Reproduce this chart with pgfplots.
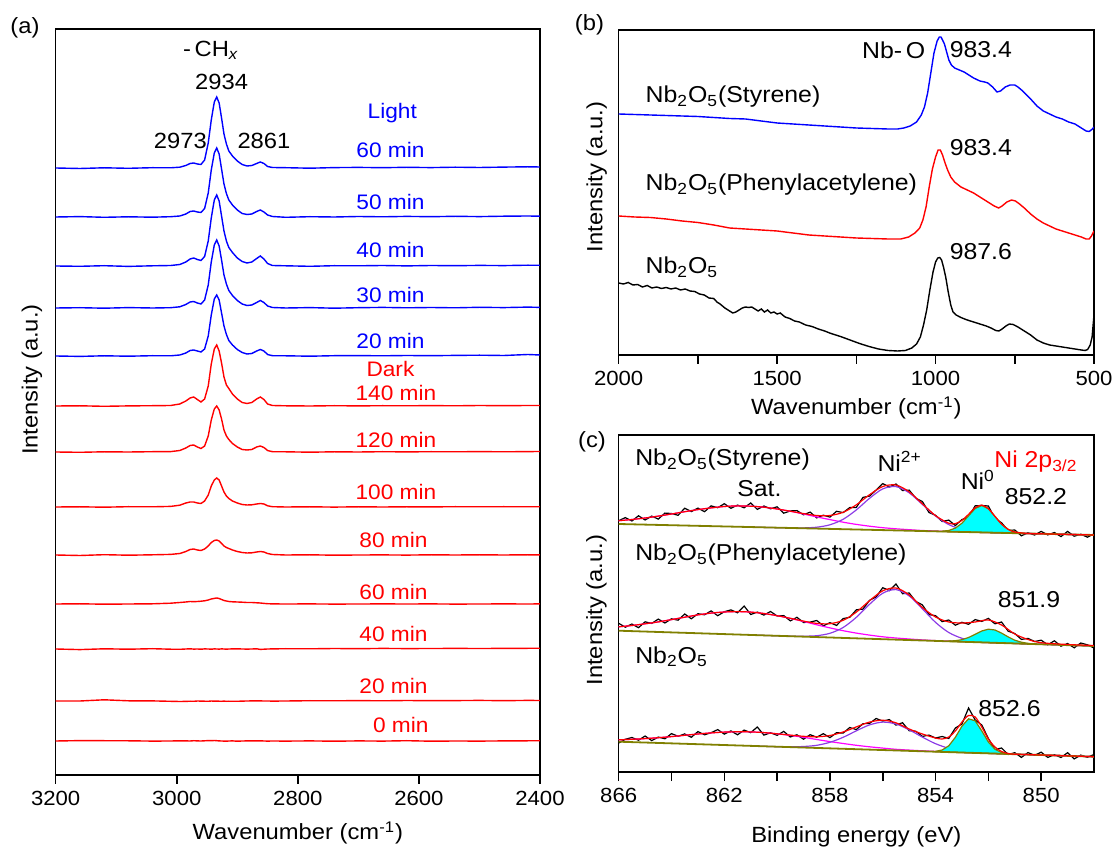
\documentclass[border=0pt]{standalone}
\usepackage{pgfplots}
\usepackage{pgfplotstable}
\usepackage{fontspec}
\setmainfont{Liberation Sans}[FakeStretch=1.08]
\pgfplotsset{compat=1.18}
\definecolor{sblue}{RGB}{0,0,255}
\definecolor{sred}{RGB}{255,0,0}
\definecolor{ni2c}{RGB}{140,60,230}
\definecolor{satc}{RGB}{255,0,255}
\definecolor{bgc}{RGB}{128,128,0}
\definecolor{ni0c}{RGB}{0,255,255}
\newcommand\fA{\fontsize{10.5}{12}\selectfont}
\newcommand\fP{\fontsize{11}{13}\selectfont}
\newcommand\fB{\fontsize{11.5}{13}\selectfont}
\pgfplotsset{
  panel/.style={
    scale only axis, anchor=south west, x dir=reverse,
    axis line style={line width=0.8pt},
    every tick/.style={line width=0.8pt, black},
    tick align=outside, xtick pos=bottom, ytick=\empty,
    major tick length=4.5pt, minor tick length=4.5pt,
    scaled x ticks=false,
    ticklabel style={font=\fontsize{10.25}{12}\selectfont},
    xlabel style={font=\fontsize{11}{13}\selectfont, anchor=center},
    ylabel style={font=\fontsize{11}{13}\selectfont, anchor=center},
    /pgf/number format/assume math mode=true,
    /pgf/number format/set thousands separator={},
    clip=true,
  }
}
% panel (a): heights above each trace's baseline (px units)
\pgfplotstableread{
x L60 L50 L40 L30 L20 D140 D120 D100 D80 D60 D40 D20 D0
3200 0 0 0 0 0 0 0 0 0 0 0 0 0
3160 -0.5 0.4 -0.3 0.3 -0.4 0.2 -0.3 0.2 -0.5 0.2 -0.6 0 0.4
3120 0.2 -0.3 0.3 -0.2 0.2 -0.3 0.2 -0.2 0.3 -0.2 0.2 1.2 0.3
3080 -0.3 0.2 -0.4 0.4 -0.2 0.1 0 0.3 -0.2 0 -0.2 0.2 0.2
3040 0.3 -0.2 0.2 0 0.3 0.3 0.3 0.2 0.2 0.2 0.3 0.1 -0.1
3010 0.2 0.3 0.5 0.3 0.2 0.5 0.4 0.6 0.6 0.8 -0.2 -0.3 0
2995 0.8 1 1.5 1.2 1 2 1.5 1.8 1.5 1.5 -0.3 -0.5 0.2
2985 2.5 3 4 3.5 3 5 4 4 3.5 2 0 -0.4 0.1
2978 4.5 5.5 7 6 5.5 8 6.5 5 5.5 2.5 0.2 -0.2 0
2972 5 6 8 6.5 6 9 7 5 6 2.3 -0.1 -0.3 0.3
2966 4 5 6.5 5 5 6.5 5 4 5 2.5 0 0 0.1
2960 3.5 4.5 5.5 4 4 4 3.5 3.5 4.5 2.8 -0.2 -0.1 0
2954 8 8.5 9.5 8 7 7 6 6 6 3.2 0.1 -0.2 0.2
2948 25 24 25 23 20 20 16 12 9 4 0 -0.3 0.4
2943 48 47 48 46 41 42 32 21 12.5 5 -0.2 0 0.3
2938 66 64 66 63 57 57 43 27 14.5 5.6 0.1 -0.2 0.5
2934 71 69 71 68 61 61 46 29 15 6 0 -0.1 0.3
2930 65 63 65 62 56 55 42 27 14 5.5 -0.1 -0.2 0.1
2926 50 48 50 48 43 43 33 21 11.5 4.5 0.1 -0.3 0
2922 34 33 35 33 30 29 22 15 9 3.5 0 -0.1 -0.1
2918 24 23.5 25 24 21.5 21 16 11 7.5 3 -0.2 -0.3 -0.2
2914 17 17 18.5 17.5 15.5 17.5 12.5 8.5 6.5 2.5 0 -0.2 0
2908 12 12 13.5 12.5 11 12 8.5 6 5 2.2 0.1 -0.3 0.1
2900 7 7 8 7.5 6.5 7 5 4 3.5 2 0.2 -0.3 -0.2
2892 3.5 3.5 4.5 4 3.5 3.5 2.5 2.5 2.5 1.8 0 -0.1 0
2884 2 2.5 3 2.5 2 2.5 2 2 2 1.5 -0.1 0 0.1
2876 2.5 3 4 3 2.5 3.5 2.5 2.2 2.2 1.5 0 0.1 0.2
2868 4.5 5.5 7.5 5.5 5 7 5 3 3 1.2 0.2 0.2 0.1
2862 6 7 10 7.5 6.5 9 6 3.5 3.5 1 -0.4 0.1 0.2
2856 4.5 5 7 5.5 5 6.5 4.5 3 3 0.6 -0.2 0 0
2850 1.5 2 2.5 2 1.5 2 1.5 1.2 1.5 0.3 0 0 -0.1
2842 0.5 0.5 0.5 0.5 0.3 0.5 0.3 0.3 0.5 0.1 0.1 -0.1 0
2820 0.3 -0.3 0.2 0 0.2 0.2 0.2 0 0 0 0.3 0 -0.1
2780 -0.2 0.3 -0.3 0.4 -0.2 0 -0.2 0.2 0.2 0.1 0.2 0.3 0.1
2740 0.4 0 0.3 -0.2 0.3 0.3 0.2 -0.1 -0.2 -0.1 0.5 0.2 -0.2
2700 0.6 0.5 0.2 0.3 0.4 0.1 0 0.2 0 0 0.3 0.4 0.1
2660 0.3 0.2 0.5 0.6 0.2 0.3 0.3 0 0.1 0.1 0.6 0.2 -0.1
2620 0.7 0.6 0.1 0.2 0.5 0.2 0.1 0.2 -0.1 0 0.4 0.5 0.3
2580 0.4 0.3 0.5 0.5 0.3 0.4 0.3 0.1 0.2 0.1 0.5 0.3 -0.2
2540 0.8 0.7 0.3 0.2 0.6 0.2 0.2 0.3 0 -0.1 0.6 0.4 0
2500 0.5 0.4 0.6 0.7 0.8 0.5 0.4 0.2 0.2 0 0.5 0.6 -0.1
2460 0.9 0.8 0.4 0.4 0.5 0.3 0.2 0.3 0 0.1 0.6 0.3 0.1
2420 1.2 1 0.8 0.9 1.5 0.5 0.4 0.2 0.2 0 0.7 0.6 0.2
2400 1 0.8 0.7 0.6 1 0.5 0.5 0.3 0.1 0.1 0.7 0.5 0.3
}\tblA
\begin{document}
\begin{tikzpicture}
\path[use as bounding box] (0,0) rectangle (557.5pt,426pt);
% ---------------- (a) ----------------
\begin{axis}[panel, at={(27.85pt,38.5pt)}, width=242.15pt, height=373pt,
  xmin=2400, xmax=3200, ymin=0, ymax=746,
  xtick={2400,2600,2800,3000,3200},
  xlabel={Wavenumber (cm\textsuperscript{-1})},
  ylabel={Intensity (a.u.)},
  xlabel style={at={(axis description cs:0.5,-0.0777)}},
  ylabel style={at={(axis description cs:-0.0489,0.53)}},
  every axis plot/.append style={line width=0.7pt}]
\addplot[sred] table[x=x, y expr=\thisrow{D0}+34] {\tblA};
\addplot[sred] table[x=x, y expr=\thisrow{D20}+74] {\tblA};
\addplot[sred] table[x=x, y expr=\thisrow{D40}+126] {\tblA};
\addplot[sred] table[x=x, y expr=\thisrow{D60}+171] {\tblA};
\addplot[sred] table[x=x, y expr=\thisrow{D80}+220] {\tblA};
\addplot[sred] table[x=x, y expr=\thisrow{D100}+268] {\tblA};
\addplot[sred] table[x=x, y expr=\thisrow{D120}+323] {\tblA};
\addplot[sred] table[x=x, y expr=\thisrow{D140}+369] {\tblA};
\addplot[sblue] table[x=x, y expr=\thisrow{L20}+419] {\tblA};
\addplot[sblue] table[x=x, y expr=\thisrow{L30}+467] {\tblA};
\addplot[sblue] table[x=x, y expr=\thisrow{L40}+509] {\tblA};
\addplot[sblue] table[x=x, y expr=\thisrow{L50}+558] {\tblA};
\addplot[sblue] table[x=x, y expr=\thisrow{L60}+607] {\tblA};
\node[font=\fP] at (axis cs:2944,725) {-\,CH\textsubscript{\itshape x}};
\node[font=\fP] at (axis cs:2926,693) {2934};
\node[font=\fP] at (axis cs:2994,634) {2973};
\node[font=\fP] at (axis cs:2856,634) {2861};
\begin{scope}[every node/.style={font=\fA, text=sblue}]
\node at (axis cs:2644,662) {Light};
\node at (axis cs:2647,625) {60 min};
\node at (axis cs:2647,573) {50 min};
\node at (axis cs:2647,525) {40 min};
\node at (axis cs:2647,480) {30 min};
\node at (axis cs:2647,434) {20 min};
\end{scope}
\begin{scope}[every node/.style={font=\fA, text=sred}]
\node at (axis cs:2647,406) {Dark};
\node at (axis cs:2638,382) {140 min};
\node at (axis cs:2638,335) {120 min};
\node at (axis cs:2638,283) {100 min};
\node at (axis cs:2642,235) {80 min};
\node at (axis cs:2642,183) {60 min};
\node at (axis cs:2642,141) {40 min};
\node at (axis cs:2642,89) {20 min};
\node at (axis cs:2630,50) {0 min};
\end{scope}
\end{axis}
% ---------------- (b) ----------------
\begin{axis}[panel, at={(309.35pt,248.5pt)}, width=237.65pt, height=162.5pt,
  xmin=500, xmax=2000, ymin=0, ymax=325,
  xtick={500,1000,1500,2000}, minor x tick num=1,
  xlabel={Wavenumber (cm\textsuperscript{-1})},
  ylabel={Intensity (a.u.)},
  xlabel style={at={(axis description cs:0.5,-0.163)}},
  ylabel style={at={(axis description cs:-0.0463,0.548)}},
  every axis plot/.append style={line width=0.7pt}]
\addplot[black] coordinates {(2000,72) (1985,71) (1970,72.5) (1955,70) (1940,70.5) (1925,68) (1910,69.5) (1895,67) (1880,68) (1865,66.5) (1850,67.5) (1835,66) (1820,67) (1805,65) (1790,66) (1775,64) (1760,63.5) (1745,61) (1730,60) (1715,57) (1700,56.5) (1690,53) (1680,51) (1665,47) (1650,44) (1640,42) (1630,43) (1620,45) (1610,47) (1600,48) (1590,47.5) (1580,48) (1570,46) (1560,44) (1550,46) (1540,43) (1530,45) (1520,42) (1510,43) (1500,41) (1490,42) (1475,38) (1460,36.5) (1445,34) (1430,33) (1410,30) (1390,28.5) (1370,26) (1350,24) (1330,21.5) (1300,18.5) (1270,15) (1240,11.5) (1210,8.5) (1180,6) (1150,4.5) (1120,4) (1095,4.5) (1075,7) (1060,11) (1048,18) (1038,30) (1028,45) (1018,65) (1008,83) (1000,93) (993,97) (987,97.5) (981,95) (975,88) (968,78) (960,63) (952,50) (945,43) (935,40) (920,37.5) (900,35) (880,33) (860,31) (840,29) (825,27) (810,24.5) (800,24) (790,26) (778,29) (767,31) (755,30.5) (740,28) (720,24) (700,20) (680,15) (660,12) (640,10) (620,9) (600,8) (580,7) (560,6) (540,5) (528,4.5) (520,5.5) (512,10) (506,18) (500,40)};
\addplot[sred] coordinates {(2000,139) (1950,138) (1900,137.5) (1850,136) (1800,134) (1750,132.5) (1700,130) (1650,127) (1600,126) (1550,125) (1500,124) (1450,122) (1400,120) (1350,119) (1300,118) (1250,117) (1200,116.5) (1150,116) (1110,116) (1085,118) (1065,122) (1050,127) (1040,135) (1030,148) (1020,168) (1010,186) (1000,198) (992,205) (985,205) (978,200) (970,192) (962,185) (952,178) (940,173) (920,168) (900,165) (880,162) (860,158) (845,155) (830,152) (815,149) (801,147) (790,149) (775,153) (760,155) (748,154) (735,151) (720,147) (700,141) (680,136) (660,132) (640,129) (620,126) (600,124) (580,122) (560,120) (540,118) (525,116) (515,116) (508,119) (500,124)};
\addplot[sblue] coordinates {(2000,241) (1950,240.5) (1900,240) (1850,239.5) (1800,239) (1750,238.5) (1700,237.5) (1650,236.5) (1600,236) (1550,234) (1500,232) (1450,231) (1400,230) (1350,229) (1300,228) (1250,227) (1200,226.5) (1150,226) (1120,226) (1100,227) (1080,229) (1060,233) (1045,240) (1035,248) (1025,262) (1015,282) (1005,302) (995,314) (988,318) (983,318) (978,315) (972,311) (965,303) (958,295) (950,290) (940,287) (925,285) (910,283) (900,281) (880,277) (860,274) (845,273) (835,272) (820,268) (806,263) (795,264) (780,268) (765,270) (750,270) (740,268) (725,264) (700,256) (680,249) (660,244) (640,241) (620,238) (600,236) (580,233) (560,231) (540,227) (525,224) (515,223.5) (505,226) (500,228)};
\node[font=\fB, anchor=west] at (axis cs:1937,258) {Nb\textsubscript{2}O\textsubscript{5}(Styrene)};
\node[font=\fB, anchor=west] at (axis cs:1937,170) {Nb\textsubscript{2}O\textsubscript{5}(Phenylacetylene)};
\node[font=\fB, anchor=west] at (axis cs:1937,88) {Nb\textsubscript{2}O\textsubscript{5}};
\node[font=\fB] at (axis cs:1132,305) {Nb-\,O};
\node[font=\fB] at (axis cs:857,305) {983.4};
\node[font=\fB] at (axis cs:857,207) {983.4};
\node[font=\fB] at (axis cs:857,103) {987.6};
\end{axis}
% ---------------- (c) ----------------
\begin{axis}[panel, at={(309.35pt,40pt)}, width=237.65pt, height=168.5pt,
  xmin=848, xmax=866, ymin=0, ymax=337,
  xtick={850,854,858,862,866}, minor x tick num=1,
  xlabel={Binding energy (eV)},
  ylabel={Intensity (a.u.)},
  xlabel style={at={(axis description cs:0.5,-0.193)}},
  ylabel style={at={(axis description cs:-0.0471,0.48)}},
  every axis plot/.append style={line width=0.6pt}]
% Styrene
\addplot[black] coordinates {(866,251.3) (865.75,254.4) (865.5,251.0) (865.25,256.2) (865,252.0) (864.75,255.9) (864.5,252.9) (864.25,258.9) (864,258.5) (863.75,256.7) (863.5,263.8) (863.25,260.4) (863,263.9) (862.75,260.3) (862.5,266.1) (862.25,264.3) (862,268.3) (861.75,263.7) (861.5,266.9) (861.25,264.2) (861,269.0) (860.75,262.6) (860.5,266.0) (860.25,263.2) (860,265.2) (859.75,258.8) (859.5,261.1) (859.25,261.4) (859,257.2) (858.75,259.9) (858.5,254.1) (858.25,256.8) (858,254.9) (857.75,260.7) (857.5,259.4) (857.25,264.4) (857,264.6) (856.75,274.6) (856.5,275.9) (856.25,282.0) (856,288.4) (855.75,285.0) (855.5,288.0) (855.25,281.5) (855,281.9) (854.75,273.8) (854.5,270.5) (854.25,259.5) (854,256.7) (853.75,250.5) (853.5,251.9) (853.25,246.5) (853,252.5) (852.75,254.8) (852.5,266.2) (852.25,266.5) (852,266.0) (851.75,253.5) (851.5,249.2) (851.25,241.5) (851,242.0) (850.75,236.2) (850.5,239.2) (850.25,237.0) (850,240.6) (849.75,237.1) (849.5,239.5) (849.25,235.4) (849,240.6) (848.75,235.8) (848.5,237.8) (848.25,234.8) (848,238.1)};
\addplot[satc, smooth] coordinates {(866,251.3) (865.5,252.5) (865,254.0) (864.5,255.9) (864,258.0) (863.5,260.3) (863,262.4) (862.5,264.1) (862,265.5) (861.5,266.1) (861,265.8) (860.5,264.8) (860,263.0) (859.5,260.7) (859,258.0) (858.5,255.1) (858,252.4) (857.5,249.8) (857,247.6) (856.5,245.8) (856,244.3) (855.5,243.2) (855,242.3) (854.5,241.5) (854,241.0) (853.5,240.5) (853,240.1) (852.5,239.7) (852,239.4) (850,238.2) (848,237.0)};
\addplot[ni2c, smooth] coordinates {(861,244.9) (860,244.3) (859.5,244.1) (859,244.1) (858.5,244.8) (858,247.2) (857.5,252.7) (857,262.1) (856.5,273.7) (856,283.1) (855.5,285.4) (855,279.2) (854.5,267.6) (854,256.0) (853.5,247.4) (853,242.7) (852.5,240.5) (852,239.6) (851.5,239.1) (851,238.8) (850,238.2) (848,237.0)};
\addplot[draw=bgc, fill=ni0c] coordinates {(853.75,240.8) (853.5,241.5) (853.25,243.9) (853,248.8) (852.75,256.2) (852.5,263.5) (852.25,266.5) (852,263.2) (851.75,255.6) (851.5,247.9) (851.25,242.6) (851,240.0) (850.75,238.9) (850.75,238.6) (853.75,240.5) (853.75,240.8)};
\addplot[bgc, line width=0.9pt] coordinates {(866,248) (848,237)};
\addplot[sred, smooth] coordinates {(866,251.3) (865.5,252.5) (865,254.0) (864.5,255.9) (864,258.0) (863.5,260.3) (863,262.4) (862.5,264.1) (862,265.5) (861.5,266.1) (861,265.8) (860.5,264.8) (860,263.0) (859.5,260.8) (859,258.4) (858.5,256.5) (858,256.5) (857.5,259.7) (857,267.2) (856.5,277.3) (856,285.5) (855.5,287.0) (855,280.2) (854.5,268.2) (854,256.3) (853.5,248.8) (853.25,248.4) (853,251.6) (852.75,257.7) (852.5,264.3) (852.25,266.9) (852,263.4) (851.75,255.6) (851.5,247.9) (851.25,242.6) (851,240.0) (850.5,238.5) (850,238.2) (849,237.6) (848,237.0)};
% Phenylacetylene
\addplot[black] coordinates {(866,148.7) (865.75,144.8) (865.5,148.0) (865.25,144.3) (865,150.2) (864.75,148.6) (864.5,152.9) (864.25,149.0) (864,153.2) (863.75,151.8) (863.5,158.0) (863.25,153.2) (863,158.3) (862.75,157.2) (862.5,161.1) (862.25,156.3) (862,160.3) (861.75,162.1) (861.5,159.2) (861.25,166) (861,157.5) (860.75,159.9) (860.5,156.9) (860.25,160.5) (860,156.0) (859.75,156.4) (859.5,151.1) (859.25,154.7) (859,149.5) (858.75,149.9) (858.5,151.5) (858.25,146.2) (858,149.3) (857.75,146.6) (857.5,153.4) (857.25,154.7) (857,162.2) (856.75,162.9) (856.5,171.7) (856.25,175.1) (856,184.3) (855.75,181.4) (855.5,188) (855.25,178.3) (855,179.0) (854.75,170.6) (854.5,167.1) (854.25,157.4) (854,156.3) (853.75,150.4) (853.5,152.0) (853.25,146.8) (853,149.7) (852.75,147.7) (852.5,152.4) (852.25,150.6) (852,153.6) (851.75,148.2) (851.5,150.0) (851.25,140.8) (851,138.5) (850.75,132.6) (850.5,133.6) (850.25,130.5) (850,131.8) (849.75,127.2) (849.5,131.2) (849.25,125.8) (849,128.5) (848.75,124.2) (848.5,129.0) (848.25,127.2) (848,124.0)};
\addplot[satc, smooth] coordinates {(866,145.2) (865.5,146.5) (865,148.2) (864.5,150.1) (864,152.4) (863.5,154.8) (863,157.1) (862.5,158.9) (862,160.0) (861.5,160.4) (861,159.9) (860.5,158.5) (860,156.3) (859.5,153.6) (859,150.5) (858.5,147.2) (858,144.1) (857.5,141.3) (857,138.9) (856.5,136.9) (856,135.2) (855.5,134.0) (855,133.0) (854.5,132.1) (854,131.4) (853.5,130.9) (853,130.4) (852.5,129.8) (852,129.4) (850,127.7) (848,126.0)};
\addplot[ni2c, smooth] coordinates {(861,137.1) (860.5,136.6) (860,136.2) (859.5,135.9) (859,135.8) (858.5,136.3) (858,138.7) (857.5,144.5) (857,154.7) (856.5,167.7) (856,178.8) (855.5,182.4) (855,176.1) (854.5,163.2) (854,149.6) (853.5,139.5) (853,133.7) (852.5,130.9) (852,129.7) (851.5,129.1) (851,128.6) (850,127.7) (848,126.0)};
\addplot[draw=bgc, fill=ni0c] coordinates {(853.5,130.9) (853.25,131.3) (853,132.3) (852.75,134.5) (852.5,137.7) (852.25,141.0) (852,142.8) (851.75,142.0) (851.5,138.9) (851.25,135.1) (851,131.8) (850.75,129.8) (850.5,128.6) (850.25,128.0) (850.25,127.9) (853.5,130.7) (853.5,130.9)};
\addplot[bgc, line width=0.9pt] coordinates {(866,141.3) (848,126)};
\addplot[sred, smooth] coordinates {(866,145.2) (865.5,146.5) (865,148.2) (864.5,150.1) (864,152.4) (863.5,154.8) (863,157.1) (862.5,158.9) (862,160.0) (861.5,160.4) (861,159.9) (860.5,158.5) (860,156.3) (859.5,153.7) (859,150.9) (858.5,148.6) (858,148.3) (857.5,151.7) (857,159.9) (856.5,171.3) (856,181.2) (855.5,184.0) (855,177.1) (854.5,164.5) (854,155) (853.5,150) (853,149) (852.5,150) (852,152) (851.5,147) (851,138) (850.5,132.5) (850,129.3) (849,127.5) (848,126.5)};
% Nb2O5
\addplot[black] coordinates {(866,29.0) (865.75,32.7) (865.5,34.5) (865.25,31.8) (865,36.0) (864.75,31.4) (864.5,34.9) (864.25,33.2) (864,38.4) (863.75,35.7) (863.5,38.1) (863.25,34.7) (863,40.4) (862.75,37.2) (862.5,39.3) (862.25,42.4) (862,37.9) (861.75,41.1) (861.5,37.2) (861.25,41.9) (861,39.4) (860.75,45) (860.5,36.9) (860.25,39.2) (860,36.7) (859.75,40.6) (859.5,35.0) (859.25,37.2) (859,32.8) (858.75,37.3) (858.5,34.8) (858.25,38.3) (858,34.4) (857.75,39.3) (857.5,38.9) (857.25,44.5) (857,42.4) (856.75,48.3) (856.5,48.6) (856.25,53.5) (856,50.9) (855.75,52.4) (855.5,46.9) (855.25,49.3) (855,41.3) (854.75,40.8) (854.5,35.6) (854.25,36.9) (854,34.0) (853.75,35.5) (853.5,33.5) (853.25,44.0) (853,48.0) (852.75,64) (852.5,52.0) (852.25,47.0) (852,33.5) (851.75,22.5) (851.5,24.0) (851.25,17.5) (851,19.3) (850.75,14.6) (850.5,19.4) (850.25,16.7) (850,19.8) (849.75,14.6) (849.5,17.3) (849.25,14.5) (849,19.3) (848.75,13.1) (848.5,16.9) (848.25,14.7) (848,17.5)};
\addplot[satc, smooth] coordinates {(866,32.2) (865.5,32.7) (865,33.4) (864.5,34.3) (864,35.4) (863.5,36.7) (863,38.0) (862.5,39.1) (862,39.9) (861.5,40.2) (861,40.1) (860.5,39.4) (860,38.2) (859.5,36.6) (859,34.7) (858.5,32.5) (858,30.4) (857.5,28.5) (857,26.7) (856.5,25.2) (856,23.9) (855.5,22.7) (855,21.9) (854.5,21.2) (854,20.6) (853.5,20.1) (853,19.6) (852.5,19.1) (850,17.0) (848,15.3)};
\addplot[ni2c, smooth] coordinates {(861,26.1) (860,25.3) (859.5,25.2) (859,25.5) (858.5,26.7) (858,29.7) (857.5,34.7) (857,41.2) (856.5,47.1) (856,49.9) (855.5,48.0) (855,42.2) (854.5,34.9) (854,28.3) (853.5,23.7) (853,21.0) (852.5,19.6) (852,18.7) (851.5,18.2) (851,17.8) (850,17.0) (848,15.3)};
\addplot[draw=bgc, fill=ni0c] coordinates {(854,20.7) (853.75,22.0) (853.5,26.2) (853.25,34.7) (853,45.9) (852.75,53.2) (852.5,51.2) (852.25,41.1) (852,30.0) (851.75,22.7) (851.5,19.4) (851.25,18.2) (851.25,18.0) (854,20.3) (854,20.7)};
\addplot[bgc, line width=0.9pt] coordinates {(866,30.3) (848,15.3)};
\addplot[sred, smooth] coordinates {(866,32.2) (865.5,32.7) (865,33.4) (864.5,34.3) (864,35.4) (863.5,36.7) (863,38.0) (862.5,39.1) (862,39.9) (861.5,40.2) (861,40.1) (860.5,39.4) (860,38.2) (859.5,36.9) (859,35.7) (858.5,35.2) (858,36.5) (857.5,40.0) (857,45.1) (856.5,49.9) (856,51.8) (855.5,49.2) (855,43.0) (854.5,38) (854,34) (853.75,33) (853.5,35) (853.25,41) (853,50) (852.75,56.5) (852.5,55) (852.25,45) (852,33) (851.75,25) (851.5,20.5) (851.25,18.5) (851,17.8) (850,17.0) (848,15.3)};
\node[font=\fB, anchor=west] at (axis cs:865.64,312) {Nb\textsubscript{2}O\textsubscript{5}(Styrene)};
\node[font=\fB] at (axis cs:860.67,283.7) {Sat.};
\node[font=\fB] at (axis cs:855.36,310.3) {Ni\textsuperscript{2+}};
\node[font=\fB] at (axis cs:852.4,292) {Ni\textsuperscript{0}};
\node[font=\fB, text=sred] at (axis cs:850.2,310.3) {Ni 2p\textsubscript{3/2}};
\node[font=\fB] at (axis cs:850.2,275.3) {852.2};
\node[font=\fB, anchor=west] at (axis cs:865.64,217) {Nb\textsubscript{2}O\textsubscript{5}(Phenylacetylene)};
\node[font=\fB] at (axis cs:850.46,172) {851.9};
\node[font=\fB, anchor=west] at (axis cs:865.64,115.3) {Nb\textsubscript{2}O\textsubscript{5}};
\node[font=\fB] at (axis cs:851.2,63.7) {852.6};
\end{axis}
\node[font=\fP] at (12.5pt,412pt) {(a)};
\node[font=\fP] at (294.75pt,413.5pt) {(b)};
\node[font=\fP] at (296pt,205pt) {(c)};
\end{tikzpicture}
\end{document}
